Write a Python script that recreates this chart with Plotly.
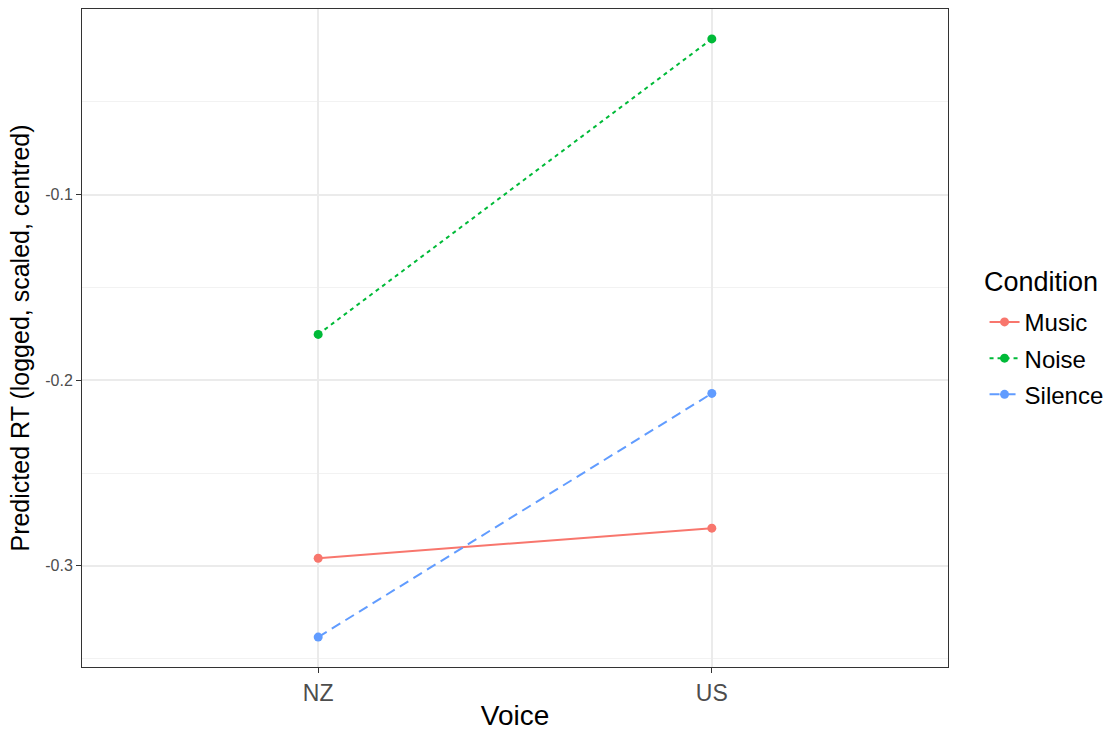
import plotly.graph_objects as go

voices = ["NZ", "US"]
conditions = ["Music", "Noise", "Silence"]
music_rt = [-0.2959, -0.2797]
noise_rt = [-0.1753, -0.0161]
silence_rt = [-0.3384, -0.2071]

y_ticks = [-0.3, -0.2, -0.1]
y_tick_labels = ["-0.3", "-0.2", "-0.1"]
y_minor = [-0.35, -0.25, -0.15, -0.05]

series = {"Music": music_rt, "Noise": noise_rt, "Silence": silence_rt}
colours = {"Music": "#F8766D", "Noise": "#00BA38", "Silence": "#619CFF"}
dashes = {"Music": "solid", "Noise": "4px,4px", "Silence": "10px,6px"}

fig = go.Figure()
for cond in conditions:
    fig.add_trace(go.Scatter(
        x=voices, y=series[cond], name=cond, mode="lines+markers",
        line=dict(color=colours[cond], width=2, dash=dashes[cond]),
        marker=dict(color=colours[cond], size=9),
        legendgroup=cond,
    ))

# ggplot-style 5% expansion of the continuous axis
all_y = music_rt + noise_rt + silence_rt
span = max(all_y) - min(all_y)
y_range = [min(all_y) - 0.05 * span, max(all_y) + 0.05 * span]

font_family = "Liberation Sans, Arial, sans-serif"
fig.update_layout(
    width=1116, height=731,
    margin=dict(l=82, r=167, t=9, b=64),
    paper_bgcolor="white", plot_bgcolor="white",
    font=dict(family=font_family, color="black"),
    legend=dict(
        font=dict(size=24),
        x=1.041, xanchor="left", y=0.558, yanchor="top",
        tracegroupgap=2,
        itemwidth=30,
    ),
    annotations=[dict(
        text="Condition", xref="paper", yref="paper",
        x=1.039, xanchor="left", y=0.560, yanchor="bottom",
        showarrow=False, font=dict(size=27, color="black"),
    )],
    xaxis=dict(
        type="category", range=[-0.6, 1.6],
        automargin=False,
        showgrid=True, gridcolor="#EBEBEB", gridwidth=1.5,
        showline=True, mirror=True, linecolor="#333333", linewidth=1,
        ticks="outside", ticklen=5, tickcolor="#333333",
        tickfont=dict(size=23, color="#4D4D4D"),
        title=dict(text="Voice", font=dict(size=28), standoff=4),
        zeroline=False,
    ),
    yaxis=dict(
        range=y_range,
        automargin=False,
        tickmode="array", tickvals=y_ticks, ticktext=y_tick_labels,
        showgrid=True, gridcolor="#EBEBEB", gridwidth=1.5,
        minor=dict(tickmode="array", tickvals=y_minor, showgrid=True,
                   gridcolor="#F2F2F2", gridwidth=1, ticks=""),
        showline=True, mirror=True, linecolor="#333333", linewidth=1,
        ticks="outside", ticklen=5, tickcolor="#333333",
        tickfont=dict(size=16, color="#4D4D4D"),
        title=dict(text="Predicted RT (logged, scaled, centred)", font=dict(size=25), standoff=8),
        zeroline=False,
    ),
)

fig.write_html("out.html")
